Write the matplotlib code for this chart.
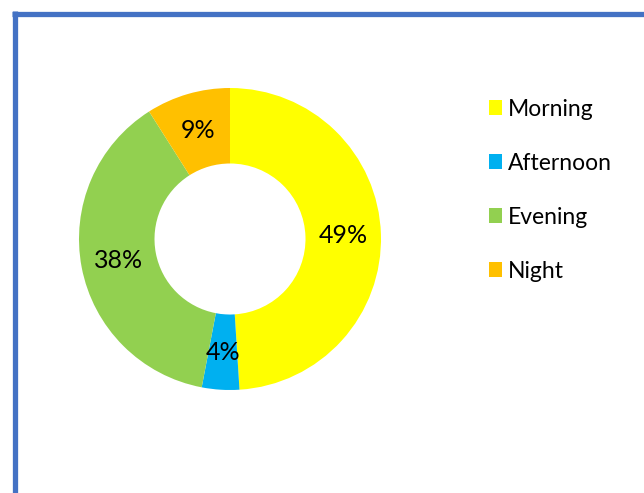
import matplotlib
matplotlib.use("Agg")
import matplotlib.pyplot as plt
from matplotlib.lines import Line2D
from matplotlib.patches import Patch

categories = ["Morning", "Afternoon", "Evening", "Night"]
values = [49, 4, 38, 9]
colors = ["#FFFF00", "#00B0F0", "#92D050", "#FFC000"]

plt.rcParams['font.family'] = ['Lato', 'DejaVu Sans']

W, H = 644, 493
fig = plt.figure(figsize=(W/100, H/100), dpi=100)
fig.patch.set_facecolor("white")

# donut axes: center (230,239), radius 151
cx, cy, r = 230, 239, 151
ax = fig.add_axes([(cx - r)/W, 1 - (cy + r)/H, 2*r/W, 2*r/H])
wedges, texts, autotexts = ax.pie(
    values, colors=colors, startangle=90, counterclock=False,
    radius=1.0, wedgeprops=dict(width=0.5, linewidth=0),
    autopct=lambda p: f"{p:.0f}%", pctdistance=0.75,
    textprops=dict(fontsize=18, color="black"))
ax.set_aspect("equal")
ax.set_xlim(-1, 1)
ax.set_ylim(-1, 1)

handles = [Patch(facecolor=c, edgecolor="none") for c in colors]
leg = fig.legend(handles, categories, loc="upper left",
                 bbox_to_anchor=(468/W, 1 - 78/H), frameon=False,
                 fontsize=16.5, handlelength=0.57, handleheight=0.57,
                 handletextpad=0.28, labelspacing=1.44)

# blue border (top and left)
fig.add_artist(Line2D([12/W, 1.0], [1 - 13.7/H, 1 - 13.7/H], color="#4472C4", linewidth=3.8, solid_capstyle="butt"))
fig.add_artist(Line2D([14.5/W, 14.5/W], [1 - 11/H, 0.0], color="#4472C4", linewidth=3.8, solid_capstyle="butt"))

fig.savefig("out.png", dpi=100, facecolor="white")
